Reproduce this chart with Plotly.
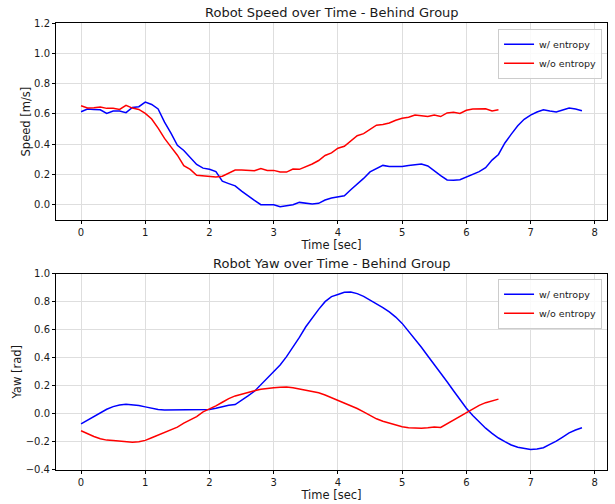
import plotly.graph_objects as go
from plotly.subplots import make_subplots

# ---------------- data ----------------
t_with = [round(i * 0.1, 1) for i in range(79)]      # 0.0 .. 7.8
t_without = [round(i * 0.1, 1) for i in range(66)]   # 0.0 .. 6.5

speed_with = [
    0.615, 0.633, 0.630, 0.628, 0.604, 0.620, 0.620, 0.609, 0.643, 0.648,
    0.678, 0.663, 0.633, 0.546, 0.474, 0.393, 0.359, 0.311, 0.267, 0.243,
    0.235, 0.220, 0.157, 0.141, 0.126, 0.091, 0.059, 0.030, 0.002, 0.004,
    0.002, -0.011, -0.004, 0.002, 0.017, 0.011, 0.007, 0.011, 0.033, 0.046,
    0.054, 0.061, 0.100, 0.135, 0.175, 0.218, 0.240, 0.261, 0.254, 0.255,
    0.254, 0.261, 0.267, 0.270, 0.257, 0.224, 0.193, 0.165, 0.163, 0.167,
    0.185, 0.198, 0.220, 0.246, 0.296, 0.333, 0.409, 0.467, 0.522, 0.565,
    0.593, 0.613, 0.628, 0.620, 0.613, 0.626, 0.639, 0.633, 0.622,
]
speed_without = [
    0.654, 0.639, 0.641, 0.646, 0.637, 0.637, 0.630, 0.657, 0.639, 0.630,
    0.604, 0.567, 0.507, 0.439, 0.383, 0.328, 0.259, 0.235, 0.196, 0.193,
    0.191, 0.185, 0.189, 0.207, 0.230, 0.230, 0.228, 0.226, 0.241, 0.228,
    0.228, 0.217, 0.217, 0.237, 0.235, 0.252, 0.270, 0.293, 0.326, 0.343,
    0.374, 0.387, 0.424, 0.457, 0.470, 0.498, 0.526, 0.530, 0.541, 0.559,
    0.572, 0.578, 0.593, 0.589, 0.583, 0.593, 0.583, 0.607, 0.611, 0.604,
    0.624, 0.633, 0.635, 0.635, 0.620, 0.628,
]

yaw_with = [
    -0.071, -0.045, -0.017, 0.012, 0.033, 0.052, 0.064, 0.068, 0.066, 0.059,
    0.050, 0.038, 0.031, 0.028, 0.028, 0.028, 0.031, 0.031, 0.031, 0.028,
    0.031, 0.040, 0.052, 0.061, 0.066, 0.094, 0.128, 0.161, 0.208, 0.253,
    0.298, 0.349, 0.408, 0.475, 0.545, 0.621, 0.687, 0.745, 0.800, 0.836,
    0.851, 0.867, 0.869, 0.857, 0.838, 0.812, 0.786, 0.758, 0.727, 0.690,
    0.645, 0.590, 0.534, 0.475, 0.413, 0.354, 0.293, 0.229, 0.165, 0.102,
    0.040, -0.012, -0.059, -0.102, -0.139, -0.172, -0.198, -0.222, -0.238, -0.248,
    -0.253, -0.250, -0.241, -0.217, -0.194, -0.165, -0.135, -0.115, -0.099,
]
yaw_without = [
    -0.120, -0.142, -0.161, -0.177, -0.187, -0.189, -0.194, -0.200, -0.203, -0.198,
    -0.189, -0.170, -0.151, -0.132, -0.118, -0.094, -0.066, -0.043, -0.019, 0.014,
    0.035, 0.057, 0.083, 0.109, 0.128, 0.142, 0.153, 0.165, 0.175, 0.182,
    0.187, 0.189, 0.191, 0.187, 0.179, 0.170, 0.161, 0.150, 0.135, 0.116,
    0.097, 0.080, 0.059, 0.038, 0.014, -0.012, -0.035, -0.052, -0.066, -0.080,
    -0.092, -0.099, -0.102, -0.102, -0.099, -0.094, -0.097, -0.071, -0.045, -0.019,
    0.007, 0.035, 0.061, 0.080, 0.095, 0.105,
]

label_with = "w/ entropy"
label_without = "w/o entropy"
title_speed = "Robot Speed over Time - Behind Group"
title_yaw = "Robot Yaw over Time - Behind Group"

# ---------------- figure ----------------
FONT = "DejaVu Sans"
TXT = "#1a1a1a"
fig = make_subplots(rows=2, cols=1)

fig.add_trace(go.Scatter(x=t_with, y=speed_with, mode="lines", name=label_with,
                         line=dict(color="blue", width=1.5), legend="legend"), row=1, col=1)
fig.add_trace(go.Scatter(x=t_without, y=speed_without, mode="lines", name=label_without,
                         line=dict(color="red", width=1.5), legend="legend"), row=1, col=1)
fig.add_trace(go.Scatter(x=t_with, y=yaw_with, mode="lines", name=label_with,
                         line=dict(color="blue", width=1.5), legend="legend2"), row=2, col=1)
fig.add_trace(go.Scatter(x=t_without, y=yaw_without, mode="lines", name=label_without,
                         line=dict(color="red", width=1.5), legend="legend2"), row=2, col=1)

axis_common = dict(
    showline=True, linecolor="black", linewidth=1, mirror=True,
    ticks="outside", ticklen=3, tickcolor="black", tickwidth=1,
    showgrid=True, gridcolor="#dedede", gridwidth=1,
    zeroline=False, tickfont=dict(family=FONT, size=10, color=TXT),
)

xa = dict(axis_common, range=[-0.39, 8.19], tick0=0, dtick=1,
          title=dict(text="Time [sec]", font=dict(family=FONT, size=11.5, color=TXT), standoff=1))
fig.update_xaxes(**xa)

fig.update_yaxes(**axis_common)
fig.update_yaxes(range=[-0.1, 1.2], tick0=0, dtick=0.2, tickformat=".1f",
                 title=dict(text="Speed [m/s]", font=dict(family=FONT, size=11.5, color=TXT), standoff=1),
                 row=1, col=1)
fig.update_yaxes(range=[-0.4, 1.0], tick0=-0.4, dtick=0.2, tickformat=".1f",
                 title=dict(text="Yaw [rad]", font=dict(family=FONT, size=11.5, color=TXT), standoff=1),
                 row=2, col=1)

fig.update_layout(
    xaxis=dict(domain=[0, 1]), xaxis2=dict(domain=[0, 1]),
    yaxis=dict(domain=[0.559, 1.0]), yaxis2=dict(domain=[0.0, 0.4394]),
)

legend_common = dict(
    xanchor="right", yanchor="top", x=0.991,
    bgcolor="rgba(255,255,255,0.85)", bordercolor="#cccccc", borderwidth=1,
    font=dict(family=FONT, size=9.5, color=TXT), tracegroupgap=0,
    itemwidth=30,
)
fig.update_layout(
    legend=dict(legend_common, y=0.987),
    legend2=dict(legend_common, y=0.4276),
)

fig.add_annotation(text=title_speed, xref="paper", yref="paper", x=0.5, y=1.0,
                   yshift=1, xanchor="center", yanchor="bottom", showarrow=False,
                   font=dict(family=FONT, size=13, color=TXT))
fig.add_annotation(text=title_yaw, xref="paper", yref="paper", x=0.5, y=0.4394,
                   yshift=1, xanchor="center", yanchor="bottom", showarrow=False,
                   font=dict(family=FONT, size=13, color=TXT))

fig.update_layout(
    width=615, height=504,
    margin=dict(l=56, r=7, t=23, b=32),
    paper_bgcolor="white", plot_bgcolor="white",
    font=dict(family=FONT, color=TXT),
    showlegend=True,
)

fig.write_html("out.html")
